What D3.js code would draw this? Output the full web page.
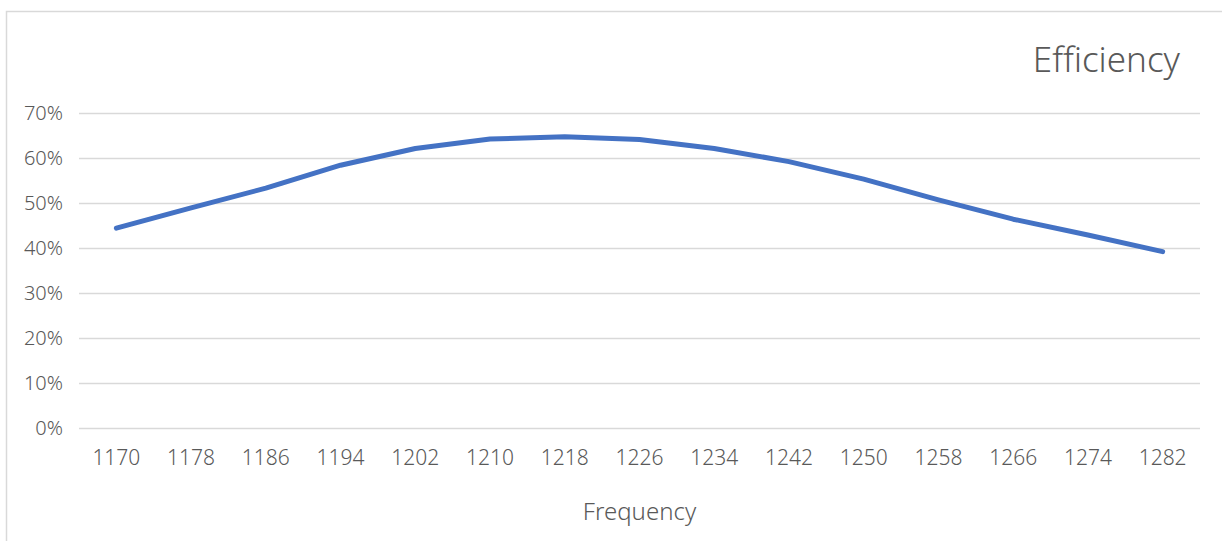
<!DOCTYPE html>
<html>
<head>
<meta charset="utf-8">
<script src="https://cdn.jsdelivr.net/npm/d3@7"></script>
<style>
  html, body { margin: 0; padding: 0; background: #fff; }
  svg { display: block; }
  text { font-family: "Noto Sans", "DejaVu Sans", sans-serif; fill: #595959; font-weight: 300; }
</style>
</head>
<body>
<svg id="chart" width="1222" height="541"></svg>
<script>
const categories = ["1170","1178","1186","1194","1202","1210","1218","1226","1234","1242","1250","1258","1266","1274","1282"];
const efficiency = [0.444, 0.489, 0.533, 0.584, 0.621, 0.642, 0.647, 0.641, 0.621, 0.592, 0.553, 0.507, 0.464, 0.429, 0.392];
const yTicks = [0, 0.1, 0.2, 0.3, 0.4, 0.5, 0.6, 0.7];
const title = "Efficiency";
const xTitle = "Frequency";

const svg = d3.select("#chart");
const plotL = 79, plotR = 1200, plotT = 113, plotB = 428;

// chart border
svg.append("rect")
  .attr("x", 6.5).attr("y", 11.5)
  .attr("width", 1240).attr("height", 560)
  .attr("fill", "none").attr("stroke", "#d9d9d9").attr("stroke-width", 1.5);

const x = d3.scaleBand().domain(categories).range([plotL, plotR]);
const y = d3.scaleLinear().domain([0, 0.7]).range([plotB, plotT]);

// gridlines + y axis
const yAxis = d3.axisLeft(y).tickValues(yTicks).tickFormat(d3.format(".0%"))
  .tickSize(-(plotR - plotL)).tickPadding(16);
const gy = svg.append("g").attr("transform", `translate(${plotL},0)`).call(yAxis);
gy.select(".domain").remove();
gy.selectAll(".tick line").attr("stroke", "#d9d9d9").attr("stroke-width", 1.5);
gy.selectAll(".tick text").attr("font-size", 20).attr("fill", "#595959")
  .attr("font-family", "'Noto Sans', sans-serif");

// x axis
const xAxis = d3.axisBottom(x).tickSize(0).tickPadding(22);
const gx = svg.append("g").attr("transform", `translate(0,${plotB})`).call(xAxis);
gx.select(".domain").remove();
gx.selectAll(".tick text").attr("font-size", 21).attr("fill", "#595959")
  .attr("font-family", "'Noto Sans', sans-serif");

// line
const line = d3.line()
  .x((d, i) => x(categories[i]) + x.bandwidth() / 2)
  .y(d => y(d));
svg.append("path").datum(efficiency)
  .attr("d", line)
  .attr("fill", "none")
  .attr("stroke", "#4472C4")
  .attr("stroke-width", 5)
  .attr("stroke-linecap", "round")
  .attr("stroke-linejoin", "round");

// title
svg.append("text").attr("x", 1180).attr("y", 72)
  .attr("text-anchor", "end").attr("font-size", 35).text(title);

// x title
svg.append("text").attr("x", (plotL + plotR) / 2).attr("y", 520)
  .attr("text-anchor", "middle").attr("font-size", 24).text(xTitle);
</script>
</body>
</html>
